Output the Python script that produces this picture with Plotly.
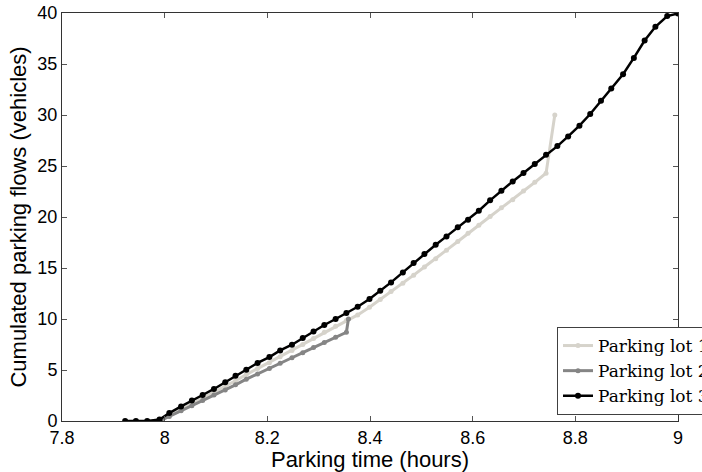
import plotly.graph_objects as go

# Parking lot 3 (black)
x_lot3 = [7.923, 7.944, 7.966, 7.990, 8.009, 8.032, 8.053, 8.074, 8.096, 8.118,
          8.138, 8.159, 8.181, 8.204, 8.225, 8.248, 8.269, 8.290, 8.311, 8.333,
          8.354, 8.376, 8.399, 8.420, 8.441, 8.464, 8.485, 8.506, 8.528, 8.549,
          8.571, 8.591, 8.612, 8.634, 8.656, 8.678, 8.699, 8.721, 8.743, 8.765,
          8.786, 8.808, 8.829, 8.850, 8.870, 8.893, 8.914, 8.935, 8.956, 8.979, 9.0]
y_lot3 = [0, 0, 0, 0.15, 0.78, 1.43, 2.02, 2.55, 3.14, 3.79,
          4.44, 5.03, 5.69, 6.27, 6.92, 7.48, 8.14, 8.78, 9.41, 10.0,
          10.59, 11.2, 11.96, 12.77, 13.59, 14.57, 15.49, 16.37, 17.28, 18.10,
          19.0, 19.74, 20.62, 21.63, 22.58, 23.49, 24.31, 25.20, 26.11, 26.95,
          27.9, 28.95, 30.1, 31.4, 32.6, 34.0, 35.6, 37.3, 38.65, 39.7, 39.95]

# Parking lot 1 (light grey)
x_lot1 = [7.990, 8.009, 8.032, 8.053, 8.074, 8.096, 8.118, 8.138, 8.159, 8.181,
          8.204, 8.225, 8.248, 8.269, 8.290, 8.311, 8.333, 8.354, 8.376, 8.399,
          8.420, 8.441, 8.464, 8.485, 8.506, 8.528, 8.549, 8.571, 8.591, 8.612,
          8.634, 8.656, 8.678, 8.699, 8.721, 8.743, 8.760]
y_lot1 = [0, 0.5, 1.1, 1.65, 2.2, 2.8, 3.4, 3.95, 4.55, 5.15,
          5.7, 6.3, 6.9, 7.5, 8.1, 8.7, 9.3, 9.85, 10.4, 11.15,
          11.9, 12.7, 13.5, 14.3, 15.1, 15.9, 16.75, 17.6, 18.4, 19.2,
          20.05, 20.9, 21.7, 22.55, 23.4, 24.3, 30.0]

# Parking lot 2 (grey)
x_lot2 = [7.990, 8.009, 8.032, 8.053, 8.074, 8.096, 8.118, 8.138, 8.159, 8.181,
          8.204, 8.225, 8.248, 8.269, 8.290, 8.311, 8.333, 8.354, 8.358]
y_lot2 = [0, 0.45, 1.0, 1.5, 2.0, 2.55, 3.05, 3.55, 4.1, 4.6,
          5.15, 5.65, 6.2, 6.7, 7.2, 7.7, 8.2, 8.7, 10.0]

x_ticks = [7.8, 8.0, 8.2, 8.4, 8.6, 8.8, 9.0]
x_tick_labels = ["7.8", "8", "8.2", "8.4", "8.6", "8.8", "9"]
y_ticks = [0, 5, 10, 15, 20, 25, 30, 35, 40]

fig = go.Figure()
fig.add_trace(go.Scatter(x=x_lot1, y=y_lot1, mode="lines+markers", name="Parking lot 1",
                         line=dict(color="#d6d3cb", width=3),
                         marker=dict(color="#d6d3cb", size=5)))
fig.add_trace(go.Scatter(x=x_lot2, y=y_lot2, mode="lines+markers", name="Parking lot 2",
                         line=dict(color="#858585", width=3),
                         marker=dict(color="#858585", size=5)))
fig.add_trace(go.Scatter(x=x_lot3, y=y_lot3, mode="lines+markers", name="Parking lot 3",
                         line=dict(color="#000000", width=2.5),
                         marker=dict(color="#000000", size=6)))

axis_common = dict(showgrid=False, zeroline=False, showline=True, linecolor="#333333",
                   linewidth=1, mirror="ticks", ticks="inside", ticklen=5,
                   tickcolor="#555555",
                   tickfont=dict(family="Liberation Sans, Arial", size=18, color="#000000"))

fig.update_xaxes(range=[7.8, 9.0], tickvals=x_ticks, ticktext=x_tick_labels,
                 title=dict(text="Parking time (hours)", standoff=2,
                            font=dict(family="Liberation Sans, Arial", size=22, color="#000000")),
                 **axis_common)
fig.update_yaxes(range=[0, 40], tickvals=y_ticks,
                 title=dict(text="Cumulated parking flows (vehicles)", standoff=4,
                            font=dict(family="Liberation Sans, Arial", size=22, color="#000000")),
                 **axis_common)

fig.update_layout(
    width=702, height=472,
    margin=dict(l=62, r=24, t=13, b=51, autoexpand=False),
    plot_bgcolor="white", paper_bgcolor="white",
    showlegend=True,
    legend=dict(x=0.8036, y=0.2304, xanchor="left", yanchor="top",
                bgcolor="white", bordercolor="#404040", borderwidth=1,
                font=dict(family="DejaVu Serif", size=17, color="#000000"),
                tracegroupgap=0),
)

fig.write_html("out.html")
